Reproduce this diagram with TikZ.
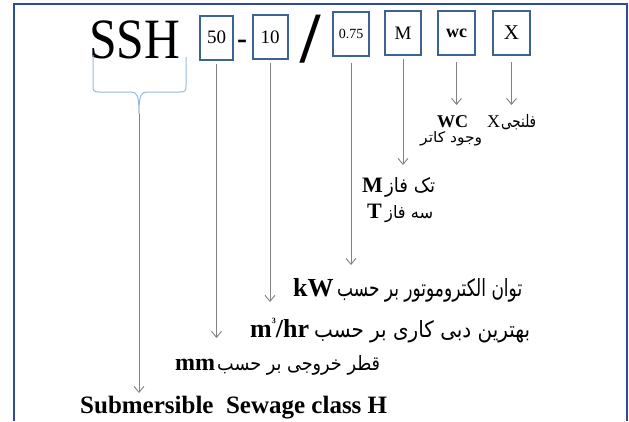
\documentclass[tikz,border=0pt]{standalone}
\usepackage{fontspec}
\setmainfont{Liberation Serif}
\newfontfamily\fa[Script=Arabic]{DejaVu Sans}
\TeXXeTstate=1
\usetikzlibrary{arrows.meta}
\definecolor{boxblue}{RGB}{60,98,150}
\definecolor{framebl}{RGB}{47,75,155}
\definecolor{bracebl}{RGB}{150,185,225}
\definecolor{conngray}{RGB}{130,130,130}
\newcommand{\fs}[1]{\fontsize{#1}{#1}\selectfont}
\newcommand{\faw}[3]{\resizebox{#1pt}{#2pt}{\fa\fs{18}#3}}
\begin{document}
\begin{tikzpicture}[x=1pt,y=-1pt,
  codebox/.style={draw=boxblue,line width=2pt,inner sep=0pt,minimum width=35pt,minimum height=44pt},
  conn/.style={draw=conngray,line width=0.9pt,-{Straight Barb[length=6pt,width=10pt]}},
  lbl/.style={anchor=base west,inner sep=0pt}]
\useasboundingbox (0,0) rectangle (629,421);
\fill[white] (0,0) rectangle (629,421);
% frame
\draw[framebl,line width=1.8pt] (14,421) -- (14,4) -- (627,4) -- (627,421);
% code
\node[lbl] (ssh) at (89,58) {\fs{57}\scalebox{0.87}[1]{SSH}};
\node[codebox,minimum width=33pt] (b50) at (216.5,37.5) {\fs{19}50};
\node[lbl] (dash) at (237,48) {\fs{30}\bfseries -};
\node[codebox] (b10) at (270,37) {\fs{19}10};
\node[lbl] (slash) at (300,62) {\fs{72}\bfseries /};
\node[codebox,minimum width=36pt] (b075) at (351,34) {\fs{14}0.75};
\node[codebox,minimum width=36pt] (bM) at (403,33) {\fs{19}M};
\node[codebox,minimum width=37pt] (bWC) at (456.5,33) {\fs{18}\bfseries wc};
\node[codebox,minimum width=37pt] (bX) at (511.5,33) {\fs{21}X};
% brace
\draw[bracebl,line width=1pt] (93,55) -- (93,86) .. controls (93,91) and (94,92) .. (99,92)
  -- (131,92) .. controls (137,92) and (139,95) .. (139,114)
  .. controls (139,95) and (141,92) .. (147,92) -- (180,92)
  .. controls (185,92) and (186,91) .. (186,86) -- (186,57);
\coordinate (braceTip) at (139,114);
% tips
\coordinate (t50) at (215,338);
\coordinate (t10) at (270,302);
\coordinate (t075) at (352,265);
\coordinate (tM) at (404,165);
\coordinate (tWC) at (458,105);
\coordinate (tX) at (513,105);
\coordinate (tH) at (139,393);
\draw[conn] (braceTip) -- (tH);
\draw[conn] ([yshift=-3pt]b50.south) -- (b50.south |- t50);
\draw[conn] ([yshift=-3pt]b10.south) -- (b10.south |- t10);
\draw[conn] ([yshift=-6pt]b075.south) -- (b075.south |- t075);
\draw[conn] ([yshift=-3pt]bM.south) -- (bM.south |- tM);
\draw[conn] ([yshift=-6pt]bWC.south) -- (bWC.south |- tWC);
\draw[conn] ([yshift=-6pt]bX.south) -- (bX.south |- tX);
% labels
\node[lbl] (lWC) at (437,127) {\fs{18}\bfseries WC};
\node[lbl] (lX) at (487,127) {\fs{18}X};
\node[lbl] (lXf) at (501,127) {\faw{35}{13}{\beginR فلنجی\endR}};
\node[lbl] (lWCf) at (420,142) {\faw{62}{11}{\beginR وجود کاتر\endR}};
\node[lbl] (lM) at (362,192) {\fs{22}\bfseries M};
\node[lbl] (lMf) at (385,192) {\faw{50}{15}{\beginR تک فاز\endR}};
\node[lbl] (lT) at (367,218) {\fs{22}\bfseries T};
\node[lbl] (lTf) at (385,218) {\faw{48}{13}{\beginR سه فاز\endR}};
\node[lbl] (lkW) at (293,296) {\fs{26}\bfseries kW};
\node[lbl] (lkWf) at (337,296) {\faw{185}{18}{\beginR توان الکتروموتور بر حسب\endR}};
\node[lbl] (lQ) at (250,337) {\fs{26}\bfseries m\raisebox{14pt}{\fs{8}3}/hr};
\node[lbl] (lQf) at (314,337) {\faw{216}{17}{\beginR بهترین دبی کاری بر حسب\endR}};
\node[lbl] (lmm) at (175,370) {\fs{24}\bfseries mm};
\node[lbl] (lmmf) at (217,370) {\faw{163}{15}{\beginR قطر خروجی بر حسب\endR}};
\node[lbl] (lSub) at (80,413) {\fs{25}\bfseries Submersible\ \ Sewage class H};
\end{tikzpicture}
\end{document}
